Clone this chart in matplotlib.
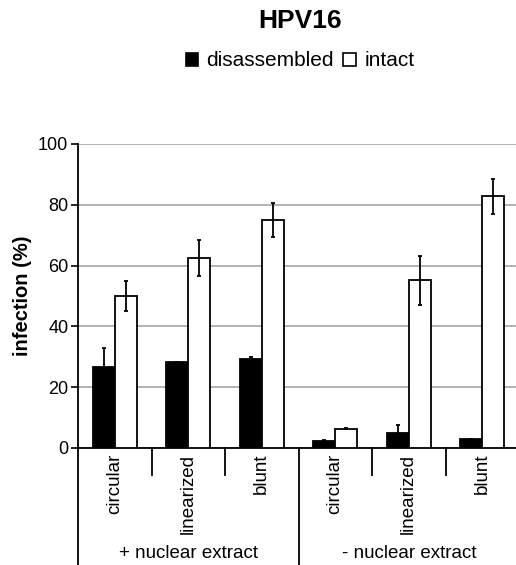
import matplotlib
matplotlib.use("Agg")
import matplotlib.pyplot as plt
import matplotlib.transforms as mtransforms
from matplotlib.patches import Patch
import numpy as np

plt.rcParams['font.family'] = ['Liberation Sans', 'DejaVu Sans']

categories = ["circular", "linearized", "blunt", "circular", "linearized", "blunt"]
groups = ["+ nuclear extract", "- nuclear extract"]
disassembled = [26.5, 28.3, 29.2, 2.4, 4.8, 3.0]
disassembled_err = [6.5, 0.0, 0.6, 0.3, 2.8, 0.0]
intact = [50.0, 62.5, 75.0, 6.4, 55.2, 82.8]
intact_err = [5.0, 5.8, 5.5, 0.2, 8.0, 5.7]
yticks = [0, 20, 40, 60, 80, 100]

fig = plt.figure(figsize=(5.16, 5.65), dpi=100)
ax = fig.add_axes([78/516, 1-448/565, 441/516, 304/565])

x = np.arange(len(categories))
w = 0.30
ax.bar(x - w/2, disassembled, w, color='black', edgecolor='black', linewidth=1.3, zorder=3)
ax.bar(x + w/2, intact, w, color='white', edgecolor='black', linewidth=1.3, zorder=3)
ax.errorbar(x - w/2, disassembled, yerr=disassembled_err, fmt='none', ecolor='black',
            elinewidth=1.3, capsize=1.5, capthick=1.3, zorder=4)
ax.errorbar(x + w/2, intact, yerr=intact_err, fmt='none', ecolor='black',
            elinewidth=1.3, capsize=1.5, capthick=1.3, zorder=4)

ax.set_xlim(-0.5, len(categories) - 0.5)
ax.set_ylim(0, 100)
ax.set_yticks(yticks)
ax.tick_params(axis='y', direction='out', length=5, width=1.2, labelsize=13, pad=2)
ax.yaxis.grid(True, color='#a6a6a6', linewidth=1.2, zorder=0)
ax.set_axisbelow(True)
ax.set_xticks([])
for s in ['top', 'right']:
    ax.spines[s].set_visible(False)
ax.spines['left'].set_linewidth(1.3)
ax.spines['bottom'].set_linewidth(1.3)
ax.set_ylabel("infection (%)", fontsize=14.5, fontweight='bold', labelpad=4)

trans = mtransforms.blended_transform_factory(ax.transData, ax.transAxes)
short_y = (448 - 475) / 304
long_y = (448 - 566) / 304
for sx in [0.5, 1.5, 3.5, 4.5]:
    ax.plot([sx, sx], [0, short_y], color='black', lw=1.3, transform=trans, clip_on=False)
for sx in [-0.5, 2.5]:
    ax.plot([sx, sx], [0, long_y], color='black', lw=1.3, transform=trans, clip_on=False)

for xi, lab in zip(x, categories):
    ax.text(xi, (448 - 454) / 304, lab, rotation=90, ha='center', va='top', fontsize=13.5,
            transform=trans)
for gi, g in enumerate(groups):
    ax.text(gi * 3 + 1, (448 - 553) / 304, g, ha='center', va='center', fontsize=13.5,
            transform=trans)

fig.text(300/516, 1 - 21/565, "HPV16", ha='center', va='center', fontsize=19, fontweight='bold')
handles = [Patch(facecolor='black', edgecolor='black', linewidth=1.2),
           Patch(facecolor='white', edgecolor='black', linewidth=1.2)]
fig.legend(handles, ["disassembled", "intact"], loc='center', bbox_to_anchor=(300/516, 1 - 61/565),
           ncol=2, frameon=False, fontsize=15, handlelength=0.6, handleheight=0.6,
           handletextpad=0.4, columnspacing=0.45, borderpad=0)

fig.savefig("out.png", dpi=100)
